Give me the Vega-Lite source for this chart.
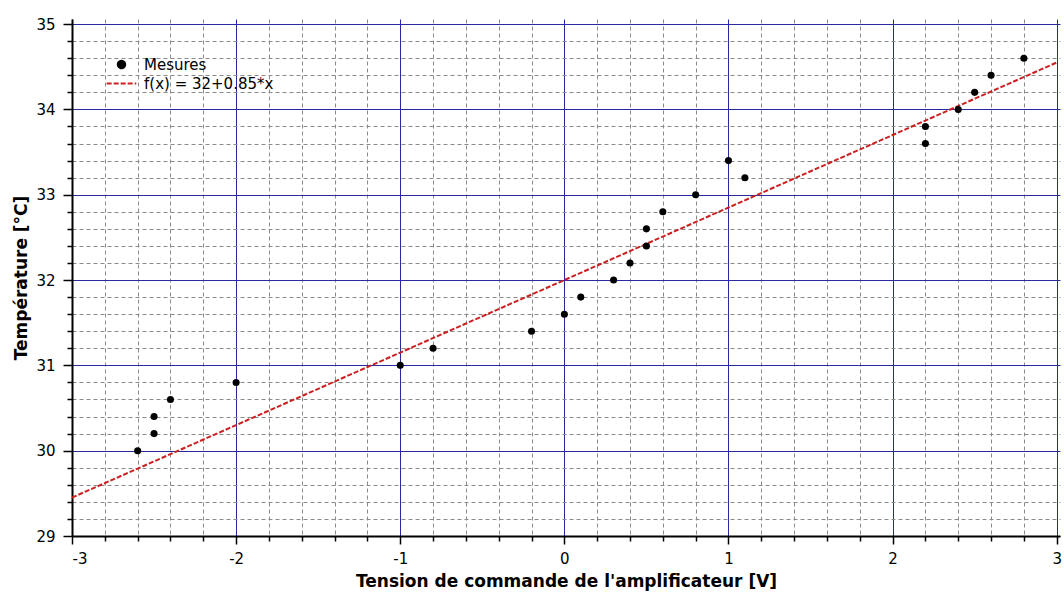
{
  "$schema": "https://vega.github.io/schema/vega-lite/v6.json",
  "width": 1064,
  "height": 592,
  "autosize": {"type": "fit", "contains": "padding"},
  "padding": {"left": 12, "top": 17, "right": 2, "bottom": 3},
  "background": "white",
  "config": {
    "view": {"stroke": null},
    "font": "DejaVu Sans",
    "axis": {
      "domainColor": "black",
      "domainWidth": 2,
      "labelFont": "DejaVu Sans",
      "labelFontSize": 15,
      "labelColor": "black",
      "labelOverlap": false,
      "titleFont": "DejaVu Sans",
      "titleFontSize": 17,
      "titleFontWeight": "bold",
      "titleColor": "black",
      "tickColor": "black",
      "tickWidth": 1.5,
      "tickCount": 200
    }
  },
  "datasets": {
    "mesures": [
      {"x": -2.6, "y": 30.0, "serie": "Mesures"},
      {"x": -2.5, "y": 30.2, "serie": "Mesures"},
      {"x": -2.5, "y": 30.4, "serie": "Mesures"},
      {"x": -2.4, "y": 30.6, "serie": "Mesures"},
      {"x": -2.0, "y": 30.8, "serie": "Mesures"},
      {"x": -1.0, "y": 31.0, "serie": "Mesures"},
      {"x": -0.8, "y": 31.2, "serie": "Mesures"},
      {"x": -0.2, "y": 31.4, "serie": "Mesures"},
      {"x": 0.0, "y": 31.6, "serie": "Mesures"},
      {"x": 0.1, "y": 31.8, "serie": "Mesures"},
      {"x": 0.3, "y": 32.0, "serie": "Mesures"},
      {"x": 0.4, "y": 32.2, "serie": "Mesures"},
      {"x": 0.5, "y": 32.4, "serie": "Mesures"},
      {"x": 0.5, "y": 32.6, "serie": "Mesures"},
      {"x": 0.6, "y": 32.8, "serie": "Mesures"},
      {"x": 0.8, "y": 33.0, "serie": "Mesures"},
      {"x": 1.0, "y": 33.4, "serie": "Mesures"},
      {"x": 1.1, "y": 33.2, "serie": "Mesures"},
      {"x": 2.2, "y": 33.6, "serie": "Mesures"},
      {"x": 2.2, "y": 33.8, "serie": "Mesures"},
      {"x": 2.4, "y": 34.0, "serie": "Mesures"},
      {"x": 2.5, "y": 34.2, "serie": "Mesures"},
      {"x": 2.6, "y": 34.4, "serie": "Mesures"},
      {"x": 2.8, "y": 34.6, "serie": "Mesures"}
    ],
    "droite": [
      {"x": -3, "y": 29.45, "serie": "f(x) = 32+0.85*x"},
      {"x": 3, "y": 34.55, "serie": "f(x) = 32+0.85*x"}
    ]
  },
  "layer": [
    {
      "data": {"name": "droite"},
      "mark": {"type": "line", "strokeWidth": 2, "clip": true},
      "encoding": {
        "x": {
          "field": "x", "type": "quantitative",
          "scale": {"domain": [-3, 3.02], "nice": false, "zero": false},
          "axis": {
            "title": "Tension de commande de l'amplificateur [V]",
            "titlePadding": 7,
            "tickCount": 200,
            "values": [-3,-2.8,-2.6,-2.4,-2.2,-2,-1.8,-1.6,-1.4,-1.2,-1,-0.8,-0.6,-0.4,-0.2,0,0.2,0.4,0.6,0.8,1,1.2,1.4,1.6,1.8,2,2.2,2.4,2.6,2.8,3],
            "labelExpr": "abs(datum.value - round(datum.value)) < 0.001 ? toString(round(datum.value)) : ''",
            "labelPadding": 7,
            "grid": true,
            "gridColor": {"condition": {"test": "abs(datum.value - round(datum.value)) < 0.001", "value": "#2a2aa0"}, "value": "#8a8a8a"},
            "gridDash": {"condition": {"test": "abs(datum.value - round(datum.value)) < 0.001", "value": []}, "value": [4, 3]},
            "tickSize": {"condition": {"test": "abs(datum.value - round(datum.value)) < 0.001", "value": 8}, "value": 5}
          }
        },
        "y": {
          "field": "y", "type": "quantitative",
          "scale": {"domain": [29, 35.06], "nice": false, "zero": false},
          "axis": {
            "title": "Température [°C]",
            "titlePadding": 5,
            "tickCount": 200,
            "values": [29,29.2,29.4,29.6,29.8,30,30.2,30.4,30.6,30.8,31,31.2,31.4,31.6,31.8,32,32.2,32.4,32.6,32.8,33,33.2,33.4,33.6,33.8,34,34.2,34.4,34.6,34.8,35],
            "labelExpr": "abs(datum.value - round(datum.value)) < 0.001 ? toString(round(datum.value)) : ''",
            "labelPadding": 8,
            "grid": true,
            "gridColor": {"condition": {"test": "abs(datum.value - round(datum.value)) < 0.001", "value": "#2a2aa0"}, "value": "#8a8a8a"},
            "gridDash": {"condition": {"test": "abs(datum.value - round(datum.value)) < 0.001", "value": []}, "value": [4, 3]},
            "tickSize": {"condition": {"test": "abs(datum.value - round(datum.value)) < 0.001", "value": 9}, "value": 5}
          }
        },
        "color": {
          "field": "serie", "type": "nominal",
          "scale": {"domain": ["Mesures", "f(x) = 32+0.85*x"], "range": ["black", "#cc2020"]},
          "legend": {
            "title": null,
            "orient": "none",
            "legendX": 42,
            "legendY": 38,
            "labelFont": "DejaVu Sans",
            "labelFontSize": 15,
            "labelColor": "black",
            "rowPadding": 3,
            "symbolSize": 55,
            "symbolStrokeWidth": 2,
            "labelOffset": 15
          }
        },
        "strokeDash": {
          "field": "serie", "type": "nominal",
          "scale": {"domain": ["Mesures", "f(x) = 32+0.85*x"], "range": [[1, 0], [5, 2]]}
        }
      }
    },
    {
      "data": {"name": "mesures"},
      "mark": {"type": "point", "filled": true, "size": 50, "opacity": 1},
      "encoding": {
        "x": {"field": "x", "type": "quantitative"},
        "y": {"field": "y", "type": "quantitative"},
        "color": {
          "field": "serie", "type": "nominal",
          "scale": {"domain": ["Mesures", "f(x) = 32+0.85*x"], "range": ["black", "#cc2020"]}
        },
        "shape": {
          "field": "serie", "type": "nominal",
          "scale": {"domain": ["Mesures", "f(x) = 32+0.85*x"], "range": ["circle", "M-4,0L4,0"]}
        }
      }
    }
  ]
}
